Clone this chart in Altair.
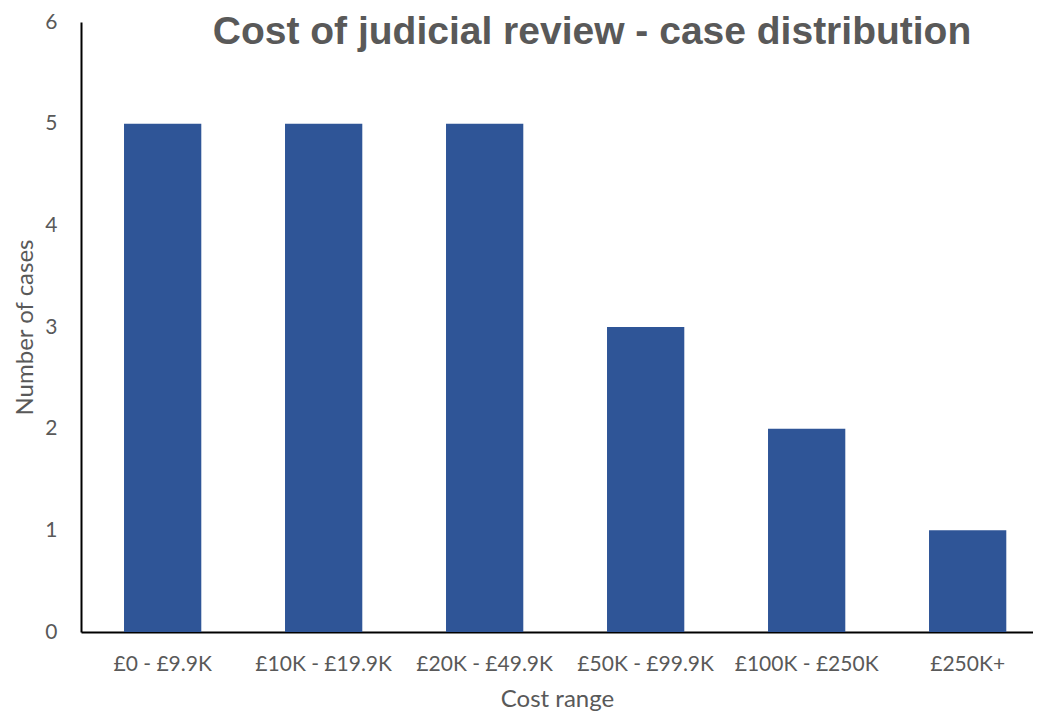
import altair as alt
import pandas as pd

categories = ["£0 - £9.9K", "£10K - £19.9K", "£20K - £49.9K", "£50K - £99.9K", "£100K - £250K", "£250K+"]
cases = [5, 5, 5, 3, 2, 1]
y_ticks = [0, 1, 2, 3, 4, 5, 6]

df = pd.DataFrame({"range": categories, "cases": cases})

grey = "#595959"

chart = alt.Chart(df).mark_bar(color="#2F5597").encode(
    x=alt.X("range:N", sort=categories, title="Cost range",
            scale=alt.Scale(paddingInner=0.52, paddingOuter=0.2165, align=0.617),
            axis=alt.Axis(labelAngle=0, labelFont="Lato", labelFontSize=21, labelColor=grey,
                          labelPadding=21, ticks=False, domainColor="#000000", domainWidth=2,
                          titleFont="Lato", titleFontSize=24, titleColor=grey, titleFontWeight="normal",
                          titlePadding=13)),
    y=alt.Y("cases:Q", title="Number of cases",
            scale=alt.Scale(domain=[0, 6], nice=False),
            axis=alt.Axis(values=y_ticks, grid=False, ticks=False, labelFont="Lato", labelFontSize=21,
                          labelColor=grey, labelPadding=24, domainColor="#000000", domainWidth=2,
                          titleFont="Lato", titleFontSize=24, titleColor=grey, titleFontWeight="normal",
                          titlePadding=7)),
).properties(
    width=952, height=610,
    title=alt.TitleParams("Cost of judicial review - case distribution", font="Liberation Sans",
                          fontSize=39, fontWeight="bold", color=grey, anchor="middle",
                          dx=35, dy=41, offset=0),
    autosize=alt.AutoSizeParams(type="none"),
    padding={"left": 73, "top": 14, "right": 0, "bottom": 80},
).configure_view(stroke=None)

chart.save("out.html", embed_options={"renderer": "svg", "actions": False})
